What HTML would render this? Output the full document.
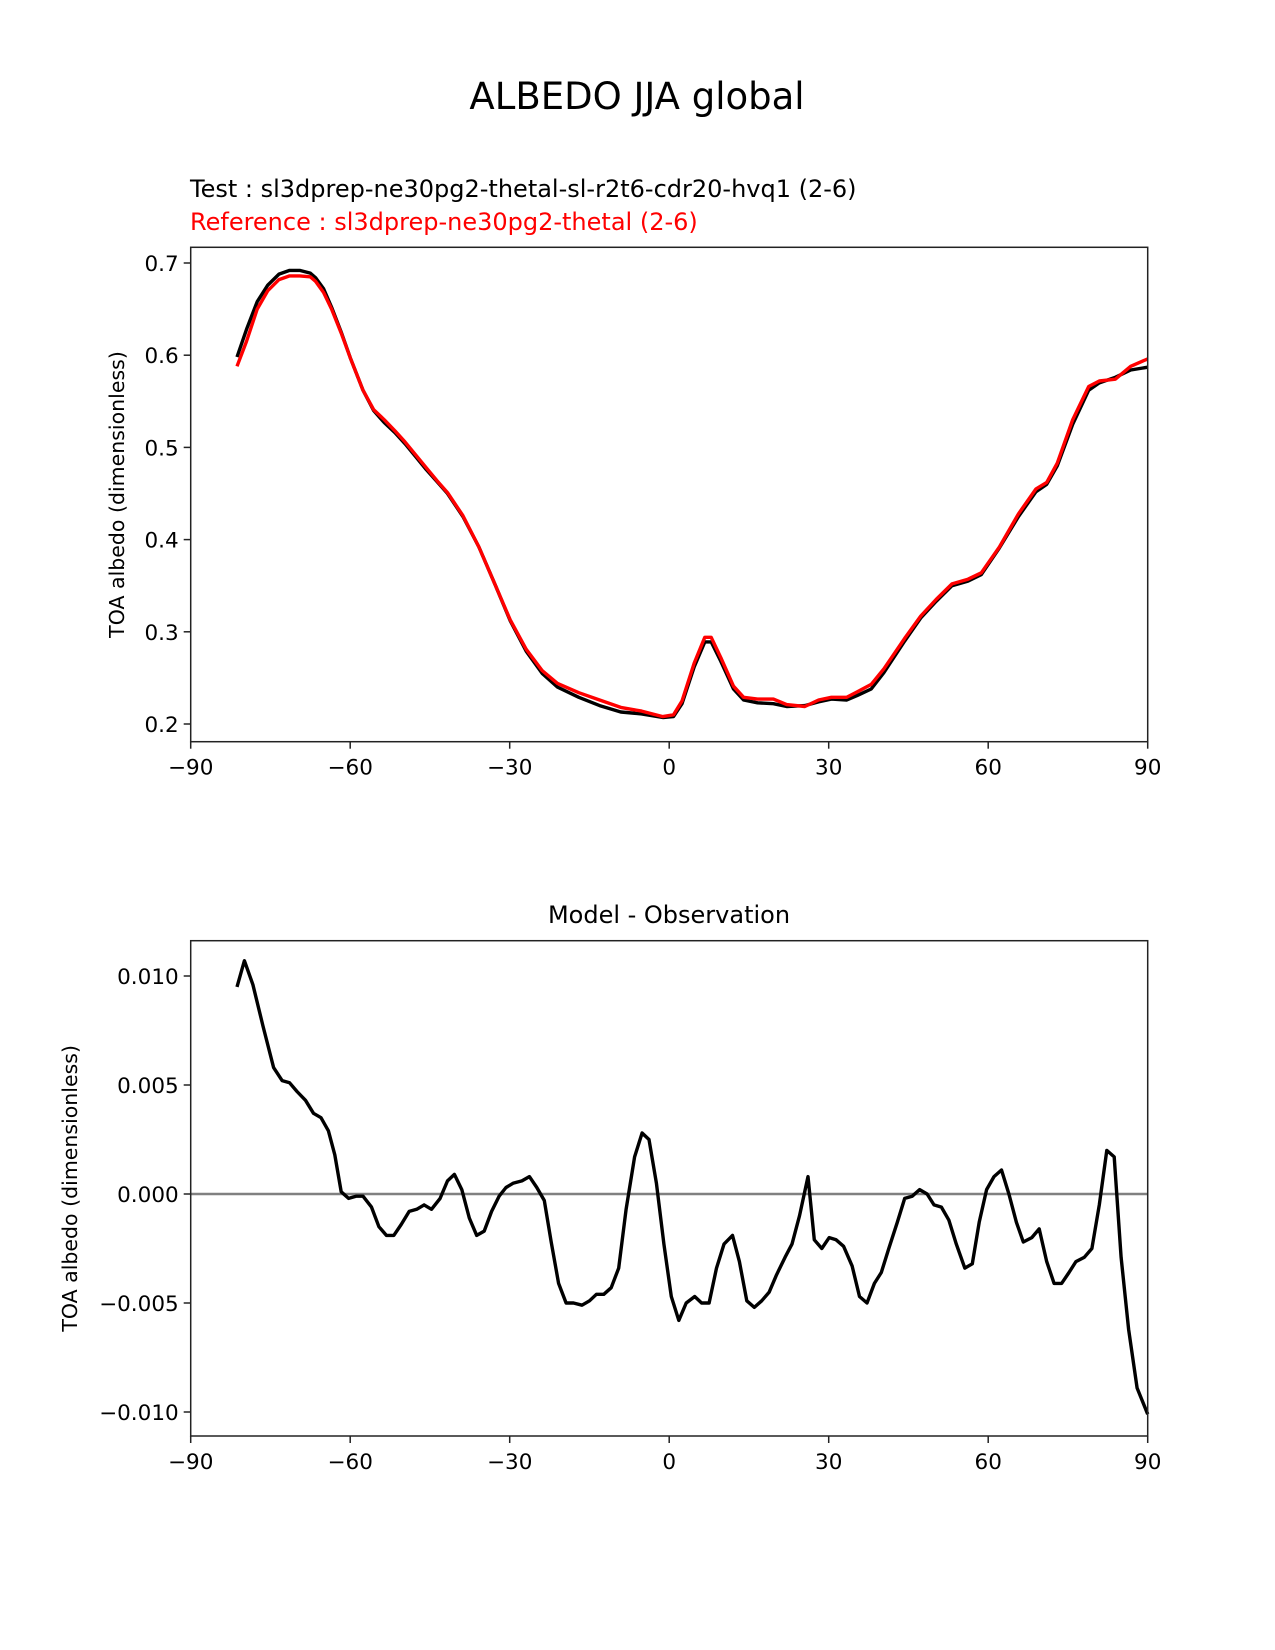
<!DOCTYPE html>
<html><head><meta charset="utf-8"><style>
html,body{margin:0;padding:0;background:#fff;}
svg{display:block;font-family:"DejaVu Sans","Liberation Sans",sans-serif;}
</style></head><body>
<svg id="fig" width="1275" height="1650" viewBox="0 0 1275 1650">
<text x="637" y="109" font-size="37" text-anchor="middle">ALBEDO JJA global</text>
<text x="190" y="197" font-size="24">Test : sl3dprep-ne30pg2-thetal-sl-r2t6-cdr20-hvq1 (2-6)</text>
<text x="190" y="230" font-size="24" fill="#ff0000">Reference : sl3dprep-ne30pg2-thetal (2-6)</text>
<text x="669" y="923" font-size="24" text-anchor="middle">Model - Observation</text>
<g id="p1"></g>
<g id="p2"></g>
</svg>
<script>
const latTop=[-81.3,-79.5,-77.5,-75.5,-73.4,-71.4,-69.5,-67.5,-66.5,-65,-63.5,-61.7,-59.9,-57.6,-55.6,-53.6,-51.6,-49.7,-47.7,-45.7,-43.7,-41.7,-38.8,-35.8,-32.8,-29.9,-26.9,-23.9,-21.0,-17.0,-13.1,-9.1,-5.2,-1.2,0.8,2.4,4.7,6.7,7.9,9.7,12.1,14.0,16.6,19.6,22.1,25.5,28.1,30.5,33.4,35.4,38.0,40.4,44.3,47.3,50.2,53.2,56.2,58.7,62.1,65.7,69.0,71.0,73.0,75.9,78.9,80.9,83.9,86.8,90.0];
const testVals=[0.598,0.628,0.658,0.676,0.688,0.692,0.692,0.689,0.684,0.672,0.652,0.625,0.596,0.562,0.540,0.527,0.516,0.504,0.490,0.476,0.463,0.450,0.425,0.392,0.352,0.312,0.279,0.255,0.240,0.229,0.220,0.213,0.211,0.207,0.208,0.222,0.262,0.289,0.289,0.268,0.238,0.226,0.223,0.222,0.219,0.220,0.224,0.227,0.226,0.231,0.238,0.256,0.290,0.315,0.333,0.350,0.355,0.362,0.391,0.425,0.452,0.460,0.480,0.525,0.562,0.570,0.576,0.584,0.587];
const refVals=[0.588,0.615,0.650,0.670,0.682,0.686,0.686,0.685,0.680,0.668,0.650,0.624,0.596,0.562,0.541,0.530,0.518,0.506,0.492,0.478,0.464,0.451,0.426,0.392,0.352,0.313,0.281,0.258,0.244,0.234,0.226,0.218,0.214,0.208,0.210,0.225,0.266,0.294,0.294,0.272,0.241,0.229,0.227,0.227,0.221,0.219,0.226,0.229,0.229,0.235,0.243,0.260,0.293,0.317,0.335,0.352,0.357,0.364,0.392,0.428,0.455,0.462,0.483,0.530,0.566,0.572,0.574,0.588,0.596];
const latDiff=[-81.3,-79.9,-78.3,-76.4,-74.4,-72.8,-71.4,-70.0,-68.4,-66.9,-65.5,-64.1,-62.9,-61.7,-60.3,-58.9,-57.6,-56.0,-54.6,-53.2,-51.8,-50.4,-48.9,-47.5,-46.1,-44.7,-43.1,-41.7,-40.4,-39.0,-37.6,-36.2,-34.8,-33.4,-32.0,-30.7,-29.3,-27.7,-26.3,-24.9,-23.5,-22.2,-20.8,-19.4,-18.0,-16.4,-15.0,-13.7,-12.3,-10.9,-9.5,-8.1,-6.5,-5.1,-3.8,-2.4,-1.0,0.4,1.8,3.2,4.8,6.1,7.5,8.9,10.3,11.9,13.2,14.6,16.0,17.4,18.8,20.2,21.8,23.1,24.5,26.1,27.3,28.7,30.1,31.4,32.8,34.4,35.8,37.2,38.6,39.9,41.3,42.9,44.3,45.7,47.1,48.5,49.8,51.2,52.6,54.0,55.6,57.0,58.3,59.7,61.1,62.5,63.9,65.3,66.6,68.2,69.6,71.0,72.4,73.8,75.2,76.5,78.1,79.5,80.9,82.3,83.7,85.0,86.4,88.0,90.0];
const diffVals=[0.0095,0.0107,0.0096,0.0077,0.0058,0.0052,0.0051,0.0047,0.0043,0.0037,0.0035,0.0029,0.0018,0.0001,-0.0002,-0.0001,-0.0001,-0.0006,-0.0015,-0.0019,-0.0019,-0.0014,-0.0008,-0.0007,-0.0005,-0.0007,-0.0002,0.0006,0.0009,0.0002,-0.0011,-0.0019,-0.0017,-0.0008,-0.0001,0.0003,0.0005,0.0006,0.0008,0.0003,-0.0003,-0.0022,-0.0041,-0.0050,-0.0050,-0.0051,-0.0049,-0.0046,-0.0046,-0.0043,-0.0034,-0.0007,0.0017,0.0028,0.0025,0.0005,-0.0023,-0.0047,-0.0058,-0.0050,-0.0047,-0.0050,-0.0050,-0.0034,-0.0023,-0.0019,-0.0031,-0.0049,-0.0052,-0.0049,-0.0045,-0.0037,-0.0029,-0.0023,-0.0010,0.0008,-0.0021,-0.0025,-0.0020,-0.0021,-0.0024,-0.0033,-0.0047,-0.0050,-0.0041,-0.0036,-0.0025,-0.0013,-0.0002,-0.0001,0.0002,0.0000,-0.0005,-0.0006,-0.0012,-0.0023,-0.0034,-0.0032,-0.0013,0.0002,0.0008,0.0011,0.0000,-0.0013,-0.0022,-0.0020,-0.0016,-0.0031,-0.0041,-0.0041,-0.0036,-0.0031,-0.0029,-0.0025,-0.0005,0.0020,0.0017,-0.0029,-0.0062,-0.0089,-0.0101];
const xTicks=[-90,-60,-30,0,30,60,90];
const yTicksTop=[0.2,0.3,0.4,0.5,0.6,0.7];
const yTicksBot=[-0.010,-0.005,0.000,0.005,0.010];

const NS='http://www.w3.org/2000/svg';
function mk(parent,tag,attrs){const e=document.createElementNS(NS,tag);for(const k in attrs)e.setAttribute(k,attrs[k]);parent.appendChild(e);return e;}
const X0=190.7,X1=1147.7;
const xs=v=>X0+(v+90)/180*(X1-X0);
const y1=v=>263.0+(0.7-v)*922;
const y2=v=>1194-v*21800;

function axes(g,top,bot,yfun,yt,fmt,prefix,ylabX){
  for(const t of xTicks){
    const l=mk(g,'line',{x1:xs(t),x2:xs(t),y1:bot,y2:bot+7,stroke:'#222','stroke-width':1.5});
    
    
    const tx=mk(g,'text',{x:xs(t),y:bot+33,'font-size':21.5,'text-anchor':'middle'});
    tx.textContent=(t<0?'\u2212'+(-t):String(t));
    
    
  }
  for(const t of yt){
    const y=yfun(t);
    const l=mk(g,'line',{x1:X0-7,x2:X0,y1:y,y2:y,stroke:'#222','stroke-width':1.5});
    
    
    const tx=mk(g,'text',{x:X0-12,y:y+8,'font-size':21.5,'text-anchor':'end'});
    tx.textContent=fmt(t);
    
    
  }
  const cy=(top+bot)/2;
  const yl=mk(g,'text',{x:ylabX,y:cy,'font-size':20.5,'text-anchor':'middle',transform:`rotate(-90 ${ylabX} ${cy})`});
  yl.textContent='TOA albedo (dimensionless)';
  
  
}
function frame(g,top,bot,prefix){
  const r=mk(g,'rect',{x:X0,y:top,width:X1-X0,height:bot-top,fill:'none',stroke:'#222','stroke-width':1.5});
  
  
}
function line(g,xsArr,ys,yfun,color,name){
  const d=xsArr.map((v,i)=>(i?'L':'M')+xs(v).toFixed(1)+' '+yfun(ys[i]).toFixed(1)).join(' ');
  const p=mk(g,'path',{d:d,fill:'none',stroke:color,'stroke-width':3.4,'stroke-linejoin':'round'});
  
  
}
const g1=document.getElementById('p1');
axes(g1,247.3,741.7,y1,yTicksTop,v=>v.toFixed(1),'top',124);
line(g1,latTop,testVals,y1,'#000','test-line');
line(g1,latTop,refVals,y1,'#ff0000','reference-line');
frame(g1,247.3,741.7,'top');

const g2=document.getElementById('p2');
axes(g2,940.7,1436,y2,yTicksBot,v=>(v<0?'\u2212':'')+Math.abs(v).toFixed(3),'bottom',77);
const z=mk(g2,'line',{x1:X0,x2:X1,y1:y2(0),y2:y2(0),stroke:'#808080','stroke-width':2.5});


line(g2,latDiff,diffVals,y2,'#000','difference-line');
frame(g2,940.7,1436,'bottom');
</script>
</body></html>
